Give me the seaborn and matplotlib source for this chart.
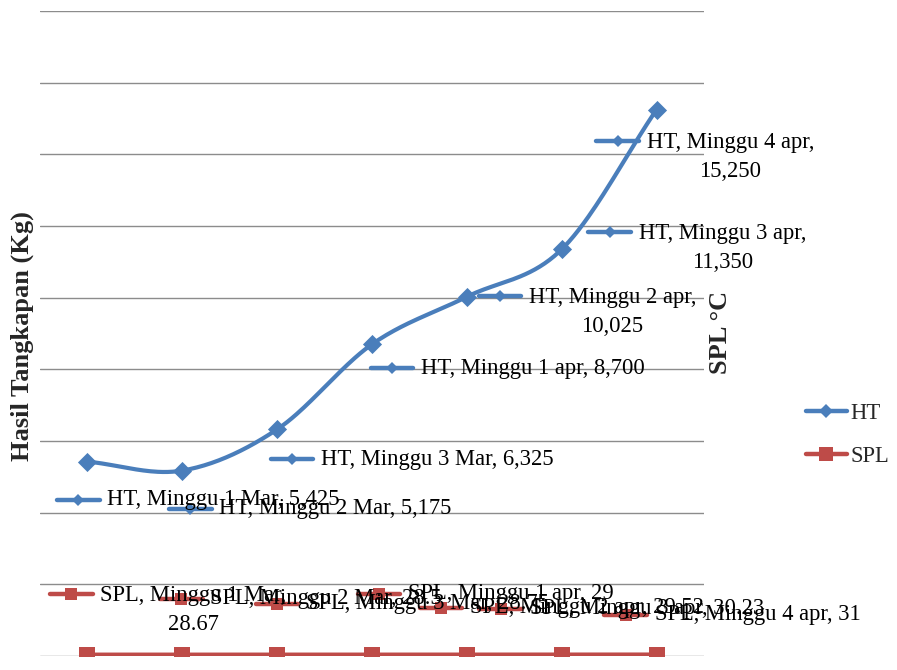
import numpy as np
import pandas as pd
import matplotlib
matplotlib.use("Agg")
import matplotlib.pyplot as plt
import seaborn as sns
from matplotlib.transforms import offset_copy
from matplotlib.lines import Line2D

# ---------------- data ----------------
categories = ["Minggu 1 Mar", "Minggu 2 Mar", "Minggu 3 Mar", "Minggu 1 apr",
              "Minggu 2 apr", "Minggu 3 apr", "Minggu 4 apr"]
ht_values = [5425, 5175, 6325, 8700, 10025, 11350, 15250]
spl_values = [28.67, 28.5, 28.75, 29, 29.52, 30.23, 31]
ht_value_text = ["5,425", "5,175", "6,325", "8,700", "10,025", "11,350", "15,250"]
spl_value_text = ["28.67", "28.5", "28.75", "29", "29.52", "30.23", "31"]
y_grid = list(range(0, 18001, 2000))
series_names = ["HT", "SPL"]
y_title = "Hasil Tangkapan (Kg)"
y2_title = "SPL °C"

# ---------------- layout (pixel offsets of data labels) ----------------
# (key dx, key dy, two_line)
ht_label_pos = [(-9, -38, False), (8, -38, False), (15, -30, False), (20, -24, False),
                (33, 1, True), (48, 17, True), (-39, -31, True)]
spl_label_pos = [(-16, 61, True), (-1, 56, False), (0, 51, False), (7, 61, False),
                 (-26, 47, False), (-61, 46, False), (-31, 40, False)]

BLUE = "#4a7ebb"
RED = "#be4b48"
FS = 16.3

sns.set_theme(style="white")
plt.rcParams["font.family"] = ["Liberation Serif", "DejaVu Serif"]

fig = plt.figure(figsize=(8.97, 6.7), dpi=100)
ax = fig.add_axes([40 / 897, 14 / 670, 664 / 897, 645 / 670])

df = pd.DataFrame({"cat": categories, "x": np.arange(len(categories)),
                   "HT": ht_values, "SPL": spl_values})

ax.set_xlim(-0.5, len(categories) - 0.5)
ax.set_ylim(y_grid[0], y_grid[-1])
ax.set_yticks(y_grid)
ax.set_yticklabels([])
ax.set_xticks([])
ax.tick_params(length=0)
ax.yaxis.grid(True, color="#8c8c8c", lw=1.0)
for s in ax.spines.values():
    s.set_visible(False)


# smoothed HT line (Catmull-Rom through the data points)
def catmull_rom(xs, ys, n=40):
    xs = np.asarray(xs, float)
    ys = np.asarray(ys, float)
    px = np.concatenate([[2 * xs[0] - xs[1]], xs, [2 * xs[-1] - xs[-2]]])
    py = np.concatenate([[2 * ys[0] - ys[1]], ys, [2 * ys[-1] - ys[-2]]])
    ox, oy = [], []
    t = np.linspace(0, 1, n)
    for i in range(1, len(px) - 2):
        for arr, out in ((px, ox), (py, oy)):
            p0, p1, p2, p3 = arr[i - 1], arr[i], arr[i + 1], arr[i + 2]
            out.extend(0.5 * ((2 * p1) + (-p0 + p2) * t +
                              (2 * p0 - 5 * p1 + 4 * p2 - p3) * t ** 2 +
                              (-p0 + 3 * p1 - 3 * p2 + p3) * t ** 3))
    return np.array(ox), np.array(oy)


sx, sy = catmull_rom(df["x"], df["HT"])
ax.plot(sx, sy, color=BLUE, lw=3.0, solid_capstyle="round", zorder=3)
sns.scatterplot(data=df, x="x", y="HT", ax=ax, marker="D", s=95, color=BLUE,
                linewidth=0, zorder=4, legend=False)

sns.lineplot(data=df, x="x", y="SPL", ax=ax, color=RED, lw=3.5, marker="s",
             markersize=12, markeredgewidth=0, zorder=4, legend=False)
ax.set_xlabel("")
ax.set_ylabel("")
ax.set_xlim(-0.5, len(categories) - 0.5)
ax.set_ylim(y_grid[0], y_grid[-1])


def data_label(i, v, name, cat, vtxt, pos, color, marker, msize):
    dx, dy, two = pos
    tr = offset_copy(ax.transData, fig=fig, x=dx, y=dy, units="dots")
    ax.plot([i - 0.225, i + 0.225], [v, v], transform=tr, color=color, lw=3.2,
            clip_on=False, zorder=5)
    ax.plot([i], [v], transform=tr, color=color, marker=marker, markersize=msize,
            markeredgewidth=0, clip_on=False, zorder=5)
    if two:
        txt = f"{name}, {cat},\n{vtxt}"
        ax.annotate(txt, xy=(i, v), xytext=(dx + 29, dy + 9), textcoords="offset pixels",
                    ha="left", va="top", multialignment="center", fontsize=FS,
                    linespacing=1.5, annotation_clip=False, zorder=6, color="black")
    else:
        txt = f"{name}, {cat}, {vtxt}"
        ax.annotate(txt, xy=(i, v), xytext=(dx + 29, dy), textcoords="offset pixels",
                    ha="left", va="center", fontsize=FS, annotation_clip=False,
                    zorder=6, color="black")


for i in range(len(categories)):
    data_label(i, ht_values[i], series_names[0], categories[i], ht_value_text[i],
               ht_label_pos[i], BLUE, "D", 6.5)
for i in range(len(categories)):
    data_label(i, spl_values[i], series_names[1], categories[i], spl_value_text[i],
               spl_label_pos[i], RED, "s", 9)

fig.text(22 / 897, 1 - 336 / 670, y_title, rotation=90, fontweight="bold",
         fontsize=19, ha="center", va="center")
fig.text(720 / 897, 1 - 332 / 670, y2_title, rotation=90, fontweight="bold",
         fontsize=19, ha="center", va="center")

handles = [Line2D([], [], color=BLUE, lw=3.2, marker="D", markersize=7, markeredgewidth=0),
           Line2D([], [], color=RED, lw=3.2, marker="s", markersize=10, markeredgewidth=0)]
fig.legend(handles, series_names, loc="center left",
           bbox_to_anchor=(806 / 897, 1 - 435 / 670), frameon=False, fontsize=FS,
           handlelength=1.8, handletextpad=0.15, labelspacing=1.0, borderpad=0,
           borderaxespad=0)

fig.savefig("out.png", dpi=100)
